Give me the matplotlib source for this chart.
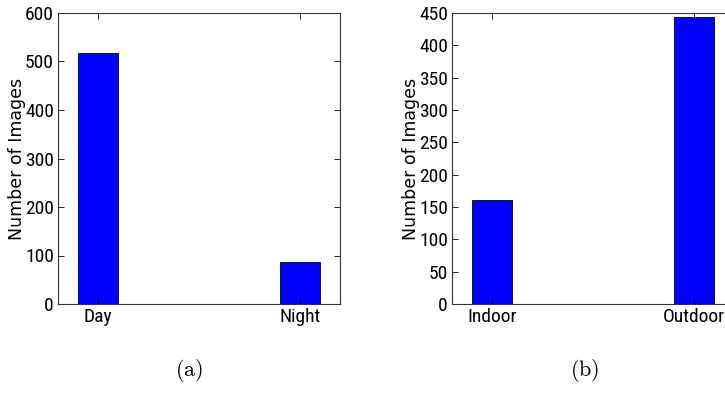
import matplotlib
matplotlib.use('Agg')
import matplotlib.pyplot as plt

# panel (a)
time_labels = ["Day", "Night"]
time_counts = [518, 87]
# panel (b)
place_labels = ["Indoor", "Outdoor"]
place_counts = [161, 444]

plt.rcParams['mathtext.fontset'] = 'cm'

fig = plt.figure(figsize=(7.25, 4.16), dpi=100)
W, H = 725.0, 416.0

# the reference tick labels are narrow, so use a condensed face
tick_font = dict(family=['Roboto Condensed', 'DejaVu Sans'], size=14)


def panel(rect, labels, counts, ymax, step, caption, cap_x):
    ax = fig.add_axes(rect)
    xs = range(len(labels))
    ax.bar(xs, counts, width=0.2, color='#0000ff', edgecolor='black',
           linewidth=0.6)
    ax.set_xlim(-0.2, len(labels) - 1 + 0.2)
    ax.set_ylim(0, ymax)
    ax.set_yticks(range(0, ymax + 1, step))
    ax.set_xticks(list(xs))
    ax.set_xticklabels(labels, fontdict=tick_font)
    ax.set_yticklabels([str(v) for v in range(0, ymax + 1, step)],
                       fontdict=tick_font)
    ax.tick_params(direction='in', top=True, right=True, length=4,
                   width=0.6, pad=3)
    for s in ax.spines.values():
        s.set_linewidth(0.8)
        s.set_color('#333333')
    ax.set_ylabel("Number of Images", fontsize=12.5)
    ax.yaxis.set_label_coords(-0.115, 0.5)
    fig.text(cap_x / W, 1 - 371 / H, caption, fontsize=16,
             ha='center', va='center')
    return ax


panel([58 / W, 1 - 304 / H, 282 / W, 291 / H], time_labels, time_counts,
      600, 100, r'$\mathrm{(a)}$', 189)
panel([452 / W, 1 - 304 / H, 282 / W, 291 / H], place_labels, place_counts,
      450, 50, r'$\mathrm{(b)}$', 585)

fig.savefig('out.png', dpi=100)
